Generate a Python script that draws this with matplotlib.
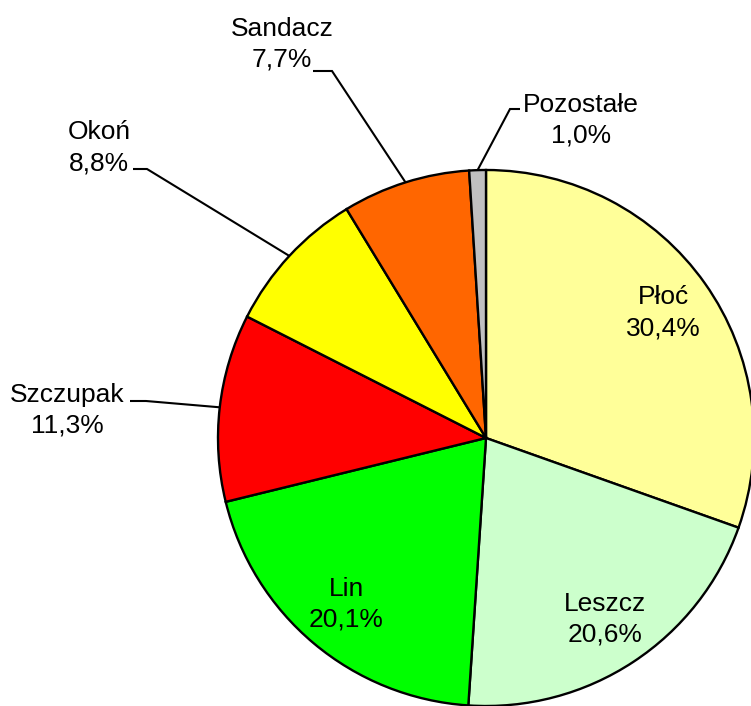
import numpy as np
import matplotlib
matplotlib.use("Agg")
import matplotlib.pyplot as plt

categories = ["Płoć", "Leszcz", "Lin", "Szczupak", "Okoń", "Sandacz", "Pozostałe"]
values = [30.4, 20.6, 20.1, 11.3, 8.8, 7.7, 1.0]
pct_labels = ["30,4%", "20,6%", "20,1%", "11,3%", "8,8%", "7,7%", "1,0%"]
colors = ["#FFFF99", "#CCFFCC", "#00FF00", "#FF0000", "#FFFF00", "#FF6600", "#C0C0C0"]

W, H = 751, 706
fig = plt.figure(figsize=(W / 100, H / 100), dpi=100)
ax = fig.add_axes([0, 0, 1, 1])

cx, cy, R = 486, H - 438, 268
wedges, _ = ax.pie(values, colors=colors, startangle=90, counterclock=False,
                   center=(cx, cy), radius=R, frame=True,
                   wedgeprops=dict(edgecolor="black", linewidth=1.7))
ax.set_xlim(0, W)
ax.set_ylim(0, H)
ax.set_aspect("equal")
ax.axis("off")

font = dict(family=["Liberation Sans", "DejaVu Sans"], fontsize=19, color="black")
LS = 1.38

# inside labels
total = sum(values)
cum = np.cumsum([0] + values[:-1])
for i in range(3):
    mid = (cum[i] + values[i] / 2) / total * 360
    ang = np.deg2rad(90 - mid)
    x = cx + 0.81 * R * np.cos(ang)
    y = cy + 0.81 * R * np.sin(ang)
    ax.text(x, y, categories[i] + "\n" + pct_labels[i], ha="center", va="center",
            linespacing=LS, **font)

# outside labels: (text center x, baseline y of last line in pixel), leader start, elbow
outside = {
    3: ((67, 433), (130, 401), (146, 401)),
    4: ((99, 170), (133, 169), (147, 169)),
    5: ((282, 67), (313, 71), (332, 71)),
    6: ((581, 143), (520, 109), (510, 109)),
}
for i, (tpos, p0, p1) in outside.items():
    mid = (cum[i] + values[i] / 2) / total * 360
    ang = np.deg2rad(90 - mid)
    ex = cx + R * np.cos(ang)
    ey = cy + R * np.sin(ang)
    ax.text(tpos[0], H - tpos[1], categories[i] + "\n" + pct_labels[i], ha="center",
            va="baseline", linespacing=LS, **font)
    ax.plot([p0[0], p1[0], ex], [H - p0[1], H - p1[1], ey], color="black", lw=1.5,
            solid_capstyle="butt", solid_joinstyle="miter")

fig.savefig("out.png", dpi=100, facecolor="white")
